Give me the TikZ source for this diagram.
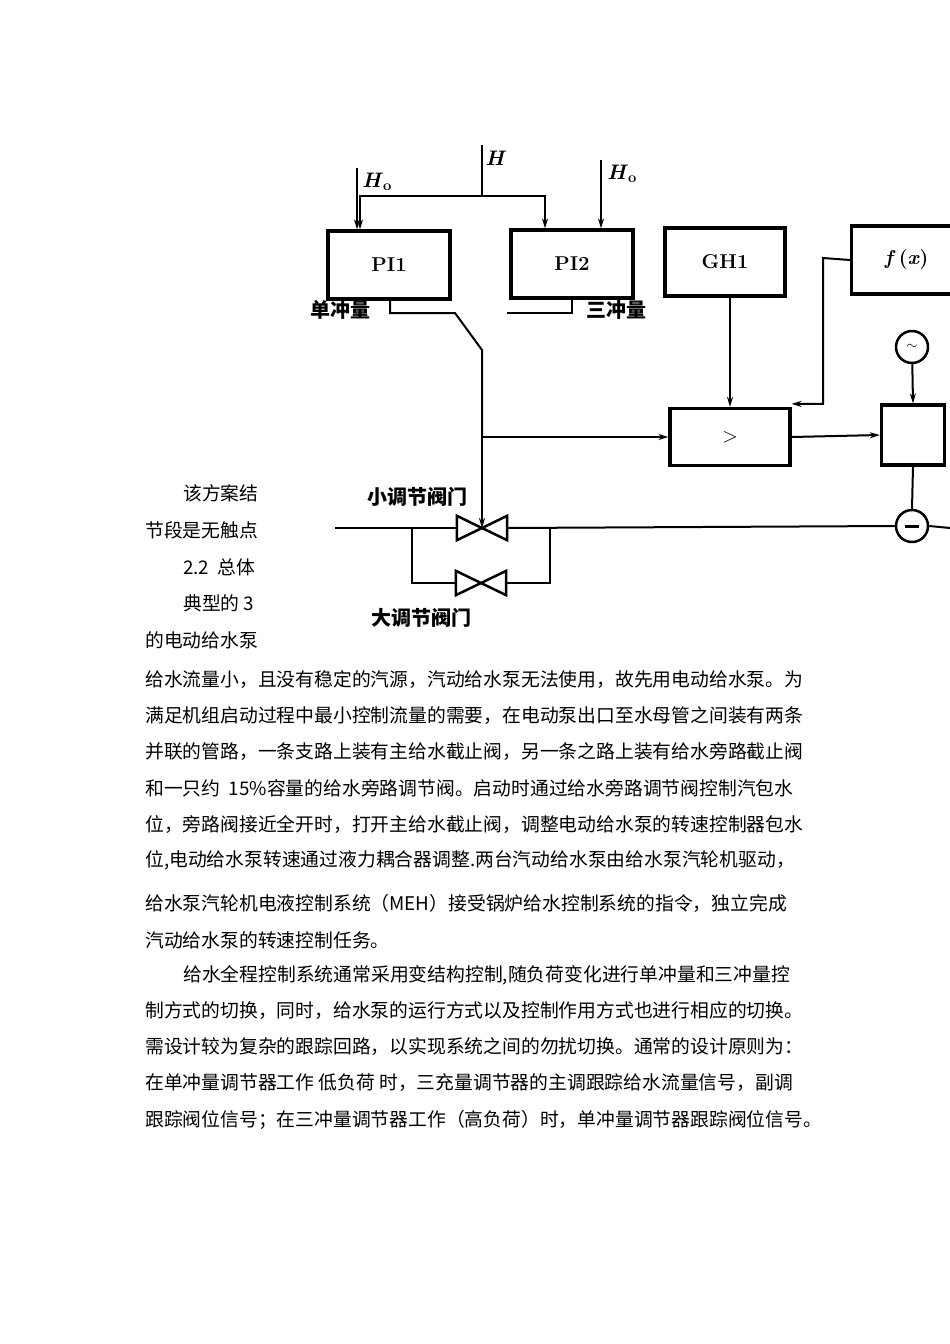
\documentclass[tikz,border=0pt]{standalone}
\usepackage{fontspec}
\newfontfamily\cjk{Noto Sans CJK SC}
\usetikzlibrary{arrows.meta}
\begin{document}
\begin{tikzpicture}[x=1pt,y=-1pt,
  blk/.style={draw,line width=3.2pt,minimum width=122pt,minimum height=68pt,font=\fontsize{20}{20}\selectfont\bfseries},
  ln/.style={line width=2pt},
  ar/.style={ln,-{Stealth[length=10pt,width=6pt]}},
  lab/.style={font=\cjk\bfseries\fontsize{20}{20}\selectfont},
  hl/.style={font=\bfseries\fontsize{21}{21}\selectfont},
  txt/.style={anchor=west,inner sep=0pt,font=\cjk\fontsize{18.8}{18.8}\selectfont}]
\useasboundingbox[fill=white] (0,0) rectangle (950,1344);
% blocks
\node[blk] (pi1) at (389,265) {PI1};
\node[blk] (pi2) at (572,264) {PI2};
\node[blk,minimum width=120pt] (gh1) at (725,262) {GH1};
\node[blk,anchor=west,minimum width=110pt] (fx) at (850,260) {\textit{f}\,(\textit{x})};
\node[blk,minimum width=120pt,minimum height=57pt] (cmp) at (730,437) {$>$};
\node[blk,minimum width=63pt,minimum height=60pt] (act) at (913,435) {};
\node[draw,circle,line width=2.5pt,minimum size=32pt,inner sep=0pt,font=\Large\bfseries] (gen) at (912,347) {$\sim$};
\node[draw,circle,line width=2.5pt,minimum size=32pt,inner sep=0pt] (fm) at (912,526) {\rule{14pt}{3pt}};
% inputs
\coordinate (h) at (482,145);
\coordinate (hj) at (482,196);
\draw[ar] (h) -- (hj) -| ([xshift=-29pt]pi1.north);
\draw[ar] (hj) -| ([xshift=-27pt]pi2.north);
\node[hl] (hlab) at (496,158) {\textit{H}};
\coordinate (h0a) at (357,168);
\draw[ar] (h0a) -- (h0a|-pi1.north);
\node[hl] (h0al) at (377,182) {\textit{H}\textsubscript{o}};
\coordinate (h0b) at (601,160);
\draw[ar] (h0b) -- (h0b|-pi2.north);
\node[hl] (h0bl) at (622,174) {\textit{H}\textsubscript{o}};
% switch
\coordinate (s1) at (390,313);
\coordinate (s2) at (455,313);
\coordinate (s3) at (482,350);
\coordinate (s4) at (482,437);
\draw[ln] (pi1.south-|s1) -- (s1) -- (s2) -- (s3) -- (s4);
\coordinate (t1) at (572,313);
\coordinate (t2) at (507,313);
\draw[ln] (pi2.south-|t1) -- (t1) -- (t2);
\node[lab] (l1) at (340,310) {单冲量};
\node[lab] (l2) at (616,310) {三冲量};
% pipe and valves
\coordinate (pl) at (335,528);
\coordinate (pr) at (950,528);
\node[inner sep=0pt,minimum width=50pt,minimum height=24pt] (v1) at (482,528) {};
\node[inner sep=0pt,minimum width=50pt,minimum height=24pt] (v2) at (481,583) {};
\foreach \v in {v1,v2}{
  \draw[line width=2.5pt,fill=white] (\v.north west) -- (\v.south east) -- (\v.north east) -- (\v.south west) -- cycle;}
\draw[ln] (pl) -- (v1.west);
\draw[ln] (v1.east) -- (fm.west);
\draw[ln] (fm.east) -- (pr);
\coordinate (b1) at (412,528);
\coordinate (b2) at (550,528);
\draw[ln] (b1) |- (v2.west);
\draw[ln] (b2) |- (v2.east);
\draw[ar] (s4) -- (v1.center);
\node[lab] (l3) at (417,497) {小调节阀门};
\node[lab] (l4) at (421,618) {大调节阀门};
% signals
\draw[ar] (s4) -- (cmp.west);
\draw[ar] (gh1.south-|cmp) -- (cmp.north);
\coordinate (f1) at (823,258);
\draw[ar] (fx.west) -- (f1) |- ([yshift=3pt]cmp.north east);
\draw[ar] (cmp.east) -- (act.west);
\draw[ar] (gen) -- (act.north);
\draw[ln] (act.south) -- (fm.north);
% text
\node[txt] (a1) at (183,493) {该方案结};
\node[txt] (a2) at (145,530) {节段是无触点};
\node[txt] (a3) at (183,567) {2.2\ \ 总体};
\node[txt] (a4) at (183,603) {典型的 3};
\node[txt] (a5) at (145,640) {的电动给水泵};
\node[txt] at (145,680) {给水流量小，且没有稳定的汽源，汽动给水泵无法使用，故先用电动给水泵。为};
\node[txt] at (145,716) {满足机组启动过程中最小控制流量的需要，在电动泵出口至水母管之间装有两条};
\node[txt] at (145,752) {并联的管路，一条支路上装有主给水截止阀，另一条之路上装有给水旁路截止阀};
\node[txt] at (145,788) {和一只约\ \ 15\%容量的给水旁路调节阀。启动时通过给水旁路调节阀控制汽包水};
\node[txt] at (145,824) {位，旁路阀接近全开时，打开主给水截止阀，调整电动给水泵的转速控制器包水};
\node[txt] at (145,860) {位,电动给水泵转速通过液力耦合器调整.两台汽动给水泵由给水泵汽轮机驱动，};
\node[txt] at (145,903) {给水泵汽轮机电液控制系统（MEH）接受锅炉给水控制系统的指令，独立完成};
\node[txt] at (145,940) {汽动给水泵的转速控制任务。};
\node[txt] at (183,975) {给水全程控制系统通常采用变结构控制,随负荷变化进行单冲量和三冲量控};
\node[txt] at (145,1011) {制方式的切换，同时，给水泵的运行方式以及控制作用方式也进行相应的切换。};
\node[txt] at (145,1047) {需设计较为复杂的跟踪回路，以实现系统之间的勿扰切换。通常的设计原则为：};
\node[txt] at (145,1083) {在单冲量调节器工作\ 低负荷\ 时，三充量调节器的主调跟踪给水流量信号，副调};
\node[txt] at (145,1120) {跟踪阀位信号；在三冲量调节器工作（高负荷）时，单冲量调节器跟踪阀位信号。};
\end{tikzpicture}
\end{document}
